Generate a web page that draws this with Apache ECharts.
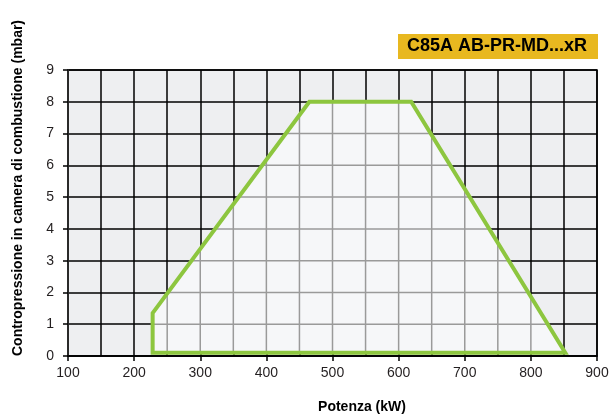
<!DOCTYPE html>
<html>
<head>
<meta charset="utf-8">
<script src="https://cdn.jsdelivr.net/npm/echarts@6/dist/echarts.min.js"></script>
<style>
  html, body { margin: 0; padding: 0; background: #fff; }
  #chart { width: 612px; height: 419px; }
</style>
</head>
<body>
<div id="chart"></div>
<script>
// campo di lavoro (kW, mbar)
const powerKW = [228, 228, 465, 619, 852]
const pressureMbar = [0.1, 1.35, 8, 8, 0.1]
const xTicks = [100, 200, 300, 400, 500, 600, 700, 800, 900]
const yTicks = [0, 1, 2, 3, 4, 5, 6, 7, 8, 9]
const modelName = 'C85A AB-PR-MD...xR'

const chart = echarts.init(document.getElementById('chart'))

const poly = powerKW.map((x, i) => [x, pressureMbar[i]])

// tratto di una retta (verticale o orizzontale) dentro il poligono
function clipLine(isVertical, c) {
  const hits = []
  for (let i = 0; i < poly.length; i++) {
    const a = poly[i]
    const b = poly[(i + 1) % poly.length]
    const k = isVertical ? 0 : 1
    const o = isVertical ? 1 : 0
    const lo = Math.min(a[k], b[k])
    const hi = Math.max(a[k], b[k])
    if (c < lo || c > hi || a[k] === b[k]) continue
    const t = (c - a[k]) / (b[k] - a[k])
    hits.push(a[o] + t * (b[o] - a[o]))
  }
  if (hits.length < 2) return null
  return [Math.min(...hits), Math.max(...hits)]
}

function renderField(params, api) {
  const pts = poly.map(p => api.coord(p))
  const children = [{
    type: 'polygon',
    shape: { points: pts },
    style: { fill: '#f6f7f9' }
  }]
  for (let x = 150; x < 900; x += 50) {
    const r = clipLine(true, x)
    if (!r) continue
    const p1 = api.coord([x, r[0]])
    const p2 = api.coord([x, r[1]])
    children.push({
      type: 'line',
      shape: { x1: p1[0], y1: p1[1], x2: p2[0], y2: p2[1] },
      style: { stroke: '#9a9a9a', lineWidth: 1.5 }
    })
  }
  for (let y = 1; y < 9; y++) {
    const r = clipLine(false, y)
    if (!r) continue
    const p1 = api.coord([r[0], y])
    const p2 = api.coord([r[1], y])
    children.push({
      type: 'line',
      shape: { x1: p1[0], y1: p1[1], x2: p2[0], y2: p2[1] },
      style: { stroke: '#9a9a9a', lineWidth: 1.5 }
    })
  }
  children.push({
    type: 'polygon',
    shape: { points: pts },
    style: { fill: null, stroke: '#8dc63f', lineWidth: 4, lineJoin: 'miter' }
  })
  return { type: 'group', children: children }
}

const option = {
  animation: false,
  textStyle: { fontFamily: 'Liberation Sans' },
  grid: {
    left: 68, right: 15, top: 70, bottom: 63,
    show: true,
    backgroundColor: '#eeeff1',
    borderColor: '#000',
    borderWidth: 1.5
  },
  xAxis: {
    type: 'value',
    min: xTicks[0],
    max: xTicks[xTicks.length - 1],
    interval: 100,
    axisLine: { show: true, lineStyle: { color: '#000', width: 1.5 } },
    axisTick: { show: true, inside: false, length: 5, lineStyle: { color: '#000', width: 1.5 } },
    axisLabel: { color: '#231f20', fontSize: 14, margin: 10 },
    splitLine: { show: true, lineStyle: { color: '#000', width: 1.5 } },
    minorTick: { show: false, splitNumber: 2 },
    minorSplitLine: { show: true, lineStyle: { color: '#000', width: 1.5 } }
  },
  yAxis: {
    type: 'value',
    min: yTicks[0],
    max: yTicks[yTicks.length - 1],
    interval: 1,
    axisLine: { show: true, lineStyle: { color: '#333', width: 1.5 } },
    axisTick: { show: true, inside: false, length: 5, lineStyle: { color: '#000', width: 1.5 } },
    axisLabel: { color: '#231f20', fontSize: 14, margin: 14 },
    splitLine: { show: true, lineStyle: { color: '#000', width: 1.5 } }
  },
  graphic: [
    {
      type: 'rect',
      left: 398, top: 34,
      shape: { width: 200, height: 25 },
      style: { fill: '#e8b820' }
    },
    {
      type: 'text',
      x: 497, y: 46.5,
      style: {
        text: modelName,
        fill: '#000',
        font: 'bold 18px "Liberation Sans"',
        align: 'center',
        verticalAlign: 'middle'
      }
    },
    {
      type: 'text',
      x: 18, y: 188,
      rotation: Math.PI / 2,
      style: {
        text: 'Contropressione in camera di combustione (mbar)',
        fill: '#000',
        font: 'bold 14px "Liberation Sans"',
        align: 'center',
        verticalAlign: 'middle'
      }
    },
    {
      type: 'text',
      x: 362, y: 407,
      style: {
        text: 'Potenza (kW)',
        fill: '#000',
        font: 'bold 14px "Liberation Sans"',
        align: 'center',
        verticalAlign: 'middle'
      }
    }
  ],
  series: [{
    type: 'custom',
    renderItem: renderField,
    data: [0],
    clip: false,
    silent: true
  }]
}

chart.setOption(option)
</script>
</body>
</html>
